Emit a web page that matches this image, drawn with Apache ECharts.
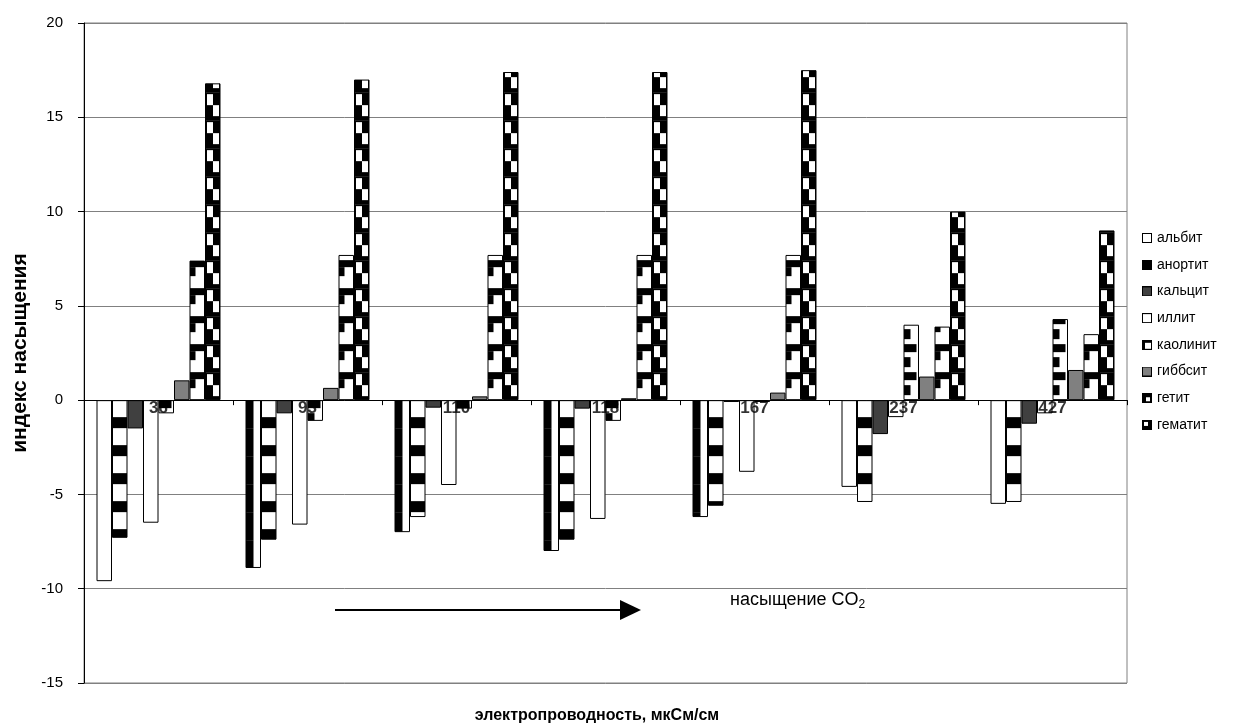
<!DOCTYPE html>
<html><head><meta charset="utf-8">
<script src="https://cdn.jsdelivr.net/npm/echarts@6/dist/echarts.min.js"></script>
<style>html,body{margin:0;padding:0;background:#fff}#c{width:1240px;height:727px}</style>
</head><body><div id="c"></div>
<script>
// ---- data ----
const categories = ['36', '93', '110', '118', '167', '237', '427'];
const seriesNames = ['альбит', 'анортит', 'кальцит', 'иллит', 'каолинит', 'гиббсит', 'гетит', 'гематит'];
const albite     = [-9.6, -8.9, -7.0, -8.0, -6.2, -4.6, -5.5];
const anorthite  = [-7.3, -7.4, -6.2, -7.4, -5.6, -5.4, -5.4];
const calcite    = [-1.5, -0.7, -0.4, -0.45, -0.1, -1.8, -1.25];
const illite     = [-6.5, -6.6, -4.5, -6.3, -3.8, -0.9, -0.7];
const kaolinite  = [-0.7, -1.1, -0.45, -1.1, -0.1, 4.0, 4.3];
const gibbsite   = [1.05, 0.65, 0.2, 0.1, 0.4, 1.25, 1.6];
const goethite   = [7.4, 7.7, 7.7, 7.7, 7.7, 3.9, 3.5];
const hematite   = [16.8, 17.0, 17.4, 17.4, 17.5, 10.0, 9.0];
const seriesValues = [albite, anorthite, calcite, illite, kaolinite, gibbsite, goethite, hematite];
const yMin = -15, yMax = 20, yStep = 5;

// ---- layout / style constants ----
const GRID_LEFT = 84, GRID_TOP = 23, GRID_W = 1043, GRID_H = 660;
const CAT = GRID_W / categories.length;
const BAR_W = 15.5, NS = seriesNames.length, P = 28;
const ZERO_Y = GRID_TOP + GRID_H * yMax / (yMax - yMin);
const FONT = 'Liberation Sans, Arial, sans-serif';

function makeTile(slot, draw) {
  const c = document.createElement('canvas');
  c.width = CAT; c.height = P;
  const ctx = c.getContext('2d');
  ctx.fillStyle = '#fff'; ctx.fillRect(0, 0, CAT, P);
  const x0 = (GRID_LEFT + (CAT - NS * BAR_W) / 2 + slot * BAR_W) % CAT;
  const y0 = ZERO_Y % P;
  const rect = (x, r, w, h, col) => {
    ctx.fillStyle = col;
    for (const dx of [-CAT, 0, CAT]) for (const dy of [-P, 0, P]) ctx.fillRect(x0 + x + dx, y0 + r + dy, w, h);
  };
  draw(rect);
  return { image: c, repeat: 'repeat' };
}
const W = BAR_W;
const fills = [
  makeTile(0, r => { r(0, 0, 8, P, '#000'); }),
  makeTile(1, r => { r(0, 17, W, 11, '#000'); }),
  '#404040',
  '#ffffff',
  makeTile(4, r => { r(0, 0, 13, 8, '#000'); r(0, 13, 7, 10, '#000'); }),
  '#808080',
  makeTile(6, r => { r(0, 0, W, 7, '#000'); r(0, 7, 6, 9, '#000'); }),
  makeTile(7, r => { r(0, 0, W, P, '#000'); r(2, 2, 6, 11, '#fff'); r(8, 13, 6, 11, '#fff'); })
];
// per-point fill overrides (series index -> category index -> fill)
const itemOverrides = { 0: { 0: '#ffffff', 5: '#ffffff', 6: '#ffffff' } };

function swatch(draw) {
  const c = document.createElement('canvas'); c.width = 10; c.height = 10;
  const ctx = c.getContext('2d');
  draw(ctx);
  ctx.strokeStyle = '#000'; ctx.lineWidth = 1; ctx.strokeRect(0.5, 0.5, 9, 9);
  return 'image://' + c.toDataURL();
}
const fillAll = col => ctx => { ctx.fillStyle = col; ctx.fillRect(0, 0, 10, 10); };
const swatches = [
  swatch(fillAll('#fff')),
  swatch(fillAll('#000')),
  swatch(fillAll('#404040')),
  swatch(fillAll('#fff')),
  swatch(ctx => { ctx.fillStyle = '#fff'; ctx.fillRect(0, 0, 10, 10); ctx.fillStyle = '#000'; ctx.fillRect(0, 0, 10, 3); ctx.fillRect(0, 0, 3, 10); }),
  swatch(fillAll('#808080')),
  swatch(ctx => { ctx.fillStyle = '#000'; ctx.fillRect(0, 0, 10, 10); ctx.fillStyle = '#fff'; ctx.fillRect(4, 4, 4, 4); }),
  swatch(ctx => { ctx.fillStyle = '#000'; ctx.fillRect(0, 0, 10, 10); ctx.fillStyle = '#fff'; ctx.fillRect(2, 2, 4, 4); })
];

const chart = echarts.init(document.getElementById('c'), null, { renderer: 'canvas' });
chart.setOption({
  animation: false,
  backgroundColor: '#fff',
  grid: { left: GRID_LEFT, top: GRID_TOP, width: GRID_W, height: GRID_H, show: true, borderColor: '#808080', borderWidth: 1, backgroundColor: 'transparent' },
  legend: {
    orient: 'vertical', left: 1137, top: 226, itemWidth: 10, itemHeight: 10, itemGap: 12.7,
    textStyle: { fontFamily: FONT, fontSize: 14, color: '#000', lineHeight: 14 },
    data: seriesNames.map((n, i) => ({ name: n, icon: swatches[i] }))
  },
  xAxis: {
    type: 'category', data: categories,
    axisLine: { onZero: true, lineStyle: { color: '#000', width: 1 } },
    axisTick: { show: true, length: 5, interval: 0, lineStyle: { color: '#000', width: 1 } },
    axisLabel: { show: false },
    splitLine: { show: false }
  },
  yAxis: {
    type: 'value', min: yMin, max: yMax, interval: yStep,
    name: 'индекс насыщения', nameLocation: 'middle', nameGap: 52,
    nameTextStyle: { fontFamily: FONT, fontSize: 21, fontWeight: 'bold', color: '#000' },
    axisLine: { show: true, onZero: false, lineStyle: { color: '#000', width: 1 } },
    axisTick: { show: true, length: 6, lineStyle: { color: '#000', width: 1 } },
    axisLabel: { margin: 21, fontFamily: FONT, fontSize: 15, color: '#000' },
    splitLine: { show: true, lineStyle: { color: '#808080', width: 1 } }
  },
  series: seriesNames.map((n, i) => ({
    name: n, type: 'bar', barWidth: BAR_W, barGap: '0%',
    itemStyle: { color: fills[i], borderColor: '#000', borderWidth: 1 },
    data: seriesValues[i].map((v, k) => (itemOverrides[i] && itemOverrides[i][k])
      ? { value: v, itemStyle: { color: itemOverrides[i][k] } } : v)
  })).concat([{
    name: 'labels', type: 'scatter', symbolSize: 0, zlevel: 1, z: 10, silent: true,
    data: categories.map(() => 0),
    label: { show: true, position: 'bottom', distance: 0, formatter: p => categories[p.dataIndex],
      fontFamily: FONT, fontSize: 17, fontWeight: 'bold', color: '#000', lineHeight: 17 }
  }]),
  graphic: [
    { type: 'line', shape: { x1: 335, y1: 610, x2: 624, y2: 610 }, style: { stroke: '#000', lineWidth: 2 } },
    { type: 'polygon', shape: { points: [[620, 600], [620, 620], [641, 610]] }, style: { fill: '#000' } },
    { type: 'text', x: 730, y: 600, style: {
        text: '{t|насыщение CO}{s|2}', fill: '#000', verticalAlign: 'middle',
        rich: { t: { fontFamily: FONT, fontSize: 18, color: '#000' }, s: { fontFamily: FONT, fontSize: 12, color: '#000', padding: [10, 0, 0, 0] } } } },
    { type: 'text', x: 597, y: 716, style: { text: 'электропроводность, мкСм/см', fontFamily: FONT, fontSize: 16, fontWeight: 'bold', fill: '#000', align: 'center', verticalAlign: 'middle' } }
  ]
});
</script></body></html>
